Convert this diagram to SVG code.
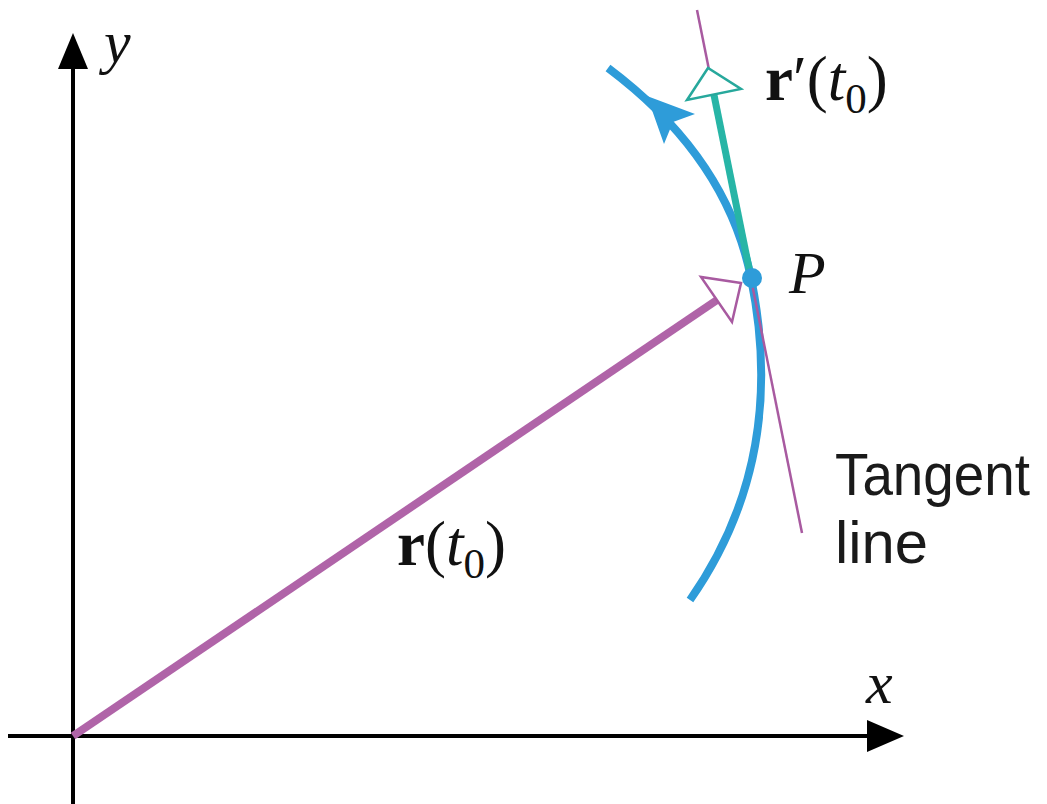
<svg xmlns="http://www.w3.org/2000/svg" width="1047" height="804" viewBox="0 0 1047 804">
<style>
.ser{font-family:"Liberation Serif","Times New Roman",serif;font-size:60px;fill:#111}
.lab{font-size:63px}
.it{font-style:italic}
.b{font-weight:bold}
.sans{font-family:"Liberation Sans",Arial,sans-serif;font-size:60px;fill:#1a1a1a}
</style>
<rect width="1047" height="804" fill="#fff"/>
<g id="axes">
<line x1="73" y1="804" x2="73" y2="60" stroke="#000" stroke-width="4"/>
<polygon points="73,33 58,69 88,69" fill="#000"/>
<line x1="8" y1="736" x2="875" y2="736" stroke="#000" stroke-width="4"/>
<polygon points="904,736 867,720 867,752" fill="#000"/>
<text class="ser it" x="104" y="62">y</text>
<text class="ser it" x="866" y="703">x</text>
</g>
<g id="connectors">
<path id="curve" d="M608,68 C664,110 731,178 751,278 C777,405 753,510 690,600" fill="none" stroke="#2E9CD9" stroke-width="8"/>
<polygon points="647,96 695,114 673,122 664,144" fill="#2E9CD9"/>
<line id="tangent" x1="697" y1="10" x2="802" y2="533" stroke="#A85AA0" stroke-width="2.5"/>
<line id="rprime" x1="751" y1="278" x2="714" y2="95" stroke="#27B5A6" stroke-width="7"/>
<polygon points="708,68 687,100 741,89" fill="#fff" stroke="#27A89C" stroke-width="2.5"/>
<line id="rvec" x1="73" y1="736" x2="717" y2="300" stroke="#B064A8" stroke-width="8"/>
<polygon points="741,283 701,277 732,322" fill="#fff" stroke="#A85AA0" stroke-width="2.5"/>
</g>
<g id="P">
<circle cx="752" cy="278" r="10" fill="#2E9CD9"/>
<text class="ser it" x="789" y="293">P</text>
</g>
<g id="labels">
<text class="ser lab" x="765" y="100"><tspan class="b">r</tspan>′(<tspan class="it">t</tspan><tspan font-size="43" dy="13">0</tspan><tspan dy="-13">)</tspan></text>
<text class="ser lab" x="397" y="565"><tspan class="b">r</tspan>(<tspan class="it">t</tspan><tspan font-size="43" dy="13">0</tspan><tspan dy="-13">)</tspan></text>
<text class="sans" x="835" y="495" textLength="195" lengthAdjust="spacingAndGlyphs">Tangent</text>
<text class="sans" x="835" y="563" textLength="93" lengthAdjust="spacingAndGlyphs">line</text>
</g>
</svg>
